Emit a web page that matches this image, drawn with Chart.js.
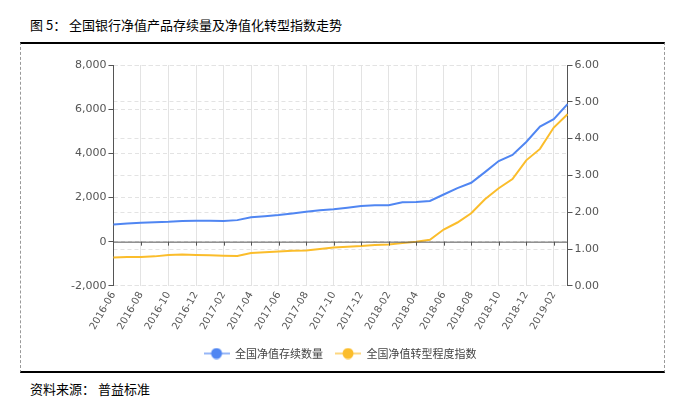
<!DOCTYPE html>
<html>
<head>
<meta charset="utf-8">
<script src="https://cdn.jsdelivr.net/npm/chart.js@4.4.1/dist/chart.umd.min.js"></script>
<style>
  body { margin: 0; background: #fff; width: 692px; height: 399px; position: relative; overflow: hidden; }
  #title { position: absolute; left: 30px; top: 15px; font: 13px "Noto Sans CJK SC", sans-serif; color: #000; }
  #box { position: absolute; left: 20px; top: 42px; width: 643px; height: 327px;
         border-top: 2px solid #000; border-bottom: 2px solid #000;
         border-left: 1px dashed #999; border-right: 1px dashed #999; }
  #source { position: absolute; left: 30px; top: 379px; font: 13px "Noto Sans CJK SC", sans-serif; color: #000; }
</style>
</head>
<body>
<div id="title">图 5： 全国银行净值产品存续量及净值化转型指数走势</div>
<div id="box"><canvas id="mycanvas" width="643" height="327"></canvas></div>
<div id="source">资料来源： 普益标准</div>
<script>
// months 2016-06 .. 2019-03
var months = ['2016-06','2016-07','2016-08','2016-09','2016-10','2016-11','2016-12',
  '2017-01','2017-02','2017-03','2017-04','2017-05','2017-06','2017-07','2017-08','2017-09','2017-10','2017-11','2017-12',
  '2018-01','2018-02','2018-03','2018-04','2018-05','2018-06','2018-07','2018-08','2018-09','2018-10','2018-11','2018-12',
  '2019-01','2019-02','2019-03'];

var cunxu = [780, 820, 855, 880, 900, 940, 945,
  945, 930, 975, 1100, 1150, 1205, 1280, 1355, 1420, 1465, 1540, 1615,
  1645, 1650, 1780, 1800, 1840, 2135, 2425, 2665, 3150, 3650, 3925, 4515,
  5210, 5545, 6230];

var zhuanxing = [0.77, 0.78, 0.78, 0.80, 0.84, 0.85, 0.84,
  0.83, 0.82, 0.81, 0.89, 0.91, 0.93, 0.95, 0.96, 1.00, 1.04, 1.06, 1.08,
  1.11, 1.12, 1.16, 1.20, 1.25, 1.53, 1.72, 1.97, 2.35, 2.65, 2.90, 3.41,
  3.72, 4.30, 4.66];

var blue = '#5086f2';
var yellow = '#fbbd2b';
var gridCol = '#e3e3e3';
var axisCol = '#555';

function legendIcon(color) {
  var c = document.createElement('canvas');
  c.width = 26; c.height = 12;
  var g = c.getContext('2d');
  g.strokeStyle = color; g.globalAlpha = 0.6; g.lineWidth = 2;
  g.beginPath(); g.moveTo(0, 6); g.lineTo(26, 6); g.stroke();
  g.globalAlpha = 1; g.fillStyle = color;
  g.beginPath(); g.arc(13, 6, 5.5, 0, Math.PI * 2); g.fill();
  return c;
}

// tick marks on the zero line
var zeroTicks = {
  id: 'zeroTicks',
  afterDatasetsDraw: function (chart) {
    var x = chart.scales.x, y = chart.scales.y;
    var ctx = chart.ctx, y0 = y.getPixelForValue(0);
    ctx.save();
    ctx.strokeStyle = axisCol; ctx.lineWidth = 1;
    ctx.beginPath();
    ctx.moveTo(x.left, y0 + 0.5); ctx.lineTo(x.right, y0 + 0.5);
    for (var i = 0; i < months.length; i += 2) {
      var px = Math.round(x.getPixelForValue(i)) + 0.5;
      ctx.moveTo(px, y0); ctx.lineTo(px, y0 + 4);
    }
    ctx.stroke();
    ctx.restore();
  }
};

var ctx = document.getElementById('mycanvas');
new Chart(ctx, {
  type: 'line',
  data: {
    labels: months,
    datasets: [{
      label: '全国净值存续数量',
      data: cunxu,
      borderColor: blue,
      backgroundColor: blue,
      borderWidth: 2,
      pointRadius: 0,
      yAxisID: 'y'
    }, {
      label: '全国净值转型程度指数',
      data: zhuanxing,
      borderColor: yellow,
      backgroundColor: yellow,
      borderWidth: 2,
      pointRadius: 0,
      yAxisID: 'y1'
    }]
  },
  plugins: [zeroTicks],
  options: {
    responsive: false,
    animation: false,
    layout: { padding: { left: 48, right: 53, top: 21, bottom: 2 } },
    plugins: {
      tooltip: { enabled: false },
      legend: {
        position: 'bottom',
        labels: {
          font: { family: '"Noto Sans CJK SC", sans-serif', size: 11 },
          color: '#444',
          padding: 12,
          boxHeight: 12,
          pointStyleWidth: 26,
          usePointStyle: true,
          generateLabels: function (chart) {
            return chart.data.datasets.map(function (d, i) {
              return { text: d.label, pointStyle: legendIcon(d.borderColor), datasetIndex: i, fontColor: '#444', hidden: false };
            });
          }
        }
      }
    },
    scales: {
      x: {
        offset: false,
        border: { display: false },
        grid: {
          color: function (c) { return c.index % 2 === 0 ? gridCol : 'rgba(0,0,0,0)'; },
          drawTicks: false
        },
        ticks: {
          autoSkip: false,
          maxRotation: 60,
          minRotation: 60,
          padding: 4,
          color: '#555',
          font: { family: '"DejaVu Sans", Verdana, sans-serif', size: 10 },
          callback: function (v, i) { return i % 2 === 0 ? months[i] : ''; }
        }
      },
      y: {
        position: 'left',
        min: -2000,
        max: 8000,
        border: { color: axisCol, dash: [4, 3] },
        grid: { color: gridCol, tickColor: axisCol, tickLength: 5, tickBorderDash: [] },
        ticks: {
          stepSize: 2000,
          padding: 2,
          color: '#555',
          font: { family: '"DejaVu Sans", Verdana, sans-serif', size: 11 },
          callback: function (v) { return v.toLocaleString('en-US'); }
        }
      },
      y1: {
        position: 'right',
        min: 0,
        max: 6,
        afterFit: function (s) { s.width += 10; },
        border: { color: axisCol, dash: [4, 3] },
        grid: { color: gridCol, tickColor: axisCol, tickLength: 5, tickBorderDash: [] },
        ticks: {
          stepSize: 1,
          padding: 2,
          color: '#555',
          font: { family: '"DejaVu Sans", Verdana, sans-serif', size: 11 },
          callback: function (v) { return v.toFixed(2); }
        }
      }
    }
  }
});
</script>
</body>
</html>
